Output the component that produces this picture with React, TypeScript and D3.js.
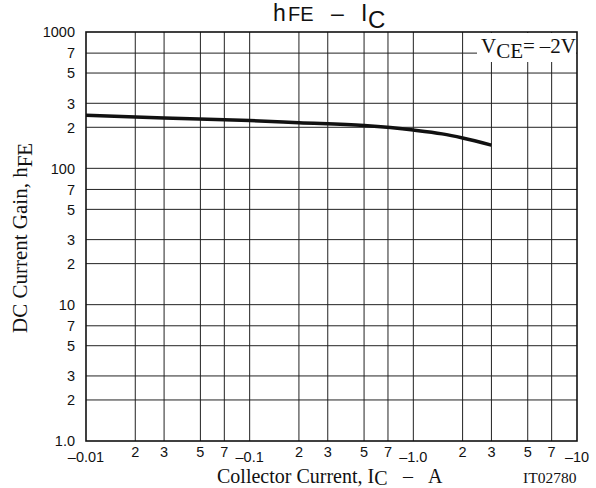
import React from "react";
import * as d3 from "d3";

const icValues = [0.01, 0.03, 0.1, 0.2, 0.5, 1, 1.5, 2, 3];
const hfeValues = [245, 234, 224, 216, 206, 191, 179, 167, 148];

const xTicks = [0.01, 0.02, 0.03, 0.05, 0.07, 0.1, 0.2, 0.3, 0.5, 0.7, 1, 2, 3, 5, 7, 10];
const xTickLabels = ["\u20130.01", "2", "3", "5", "7", "\u20130.1", "2", "3", "5", "7", "\u20131.0", "2", "3", "5", "7", "\u201310"];
const yTicks = [1, 2, 3, 5, 7, 10, 20, 30, 50, 70, 100, 200, 300, 500, 700, 1000];
const yTickLabels = ["1.0", "2", "3", "5", "7", "10", "2", "3", "5", "7", "100", "2", "3", "5", "7", "1000"];

const SANS = "'Liberation Sans', Arial, Helvetica, sans-serif";
const SERIF = "'Liberation Serif', 'Times New Roman', serif";

export default function App() {
  const W = 596, H = 488;
  const L = 86, R = 577, T = 32, B = 441;
  const x = d3.scaleLog().domain([0.01, 10]).range([L, R]);
  const y = d3.scaleLog().domain([1, 1000]).range([B, T]);
  const isDecade = (v: number) => Math.abs(Math.log10(v) - Math.round(Math.log10(v))) < 1e-9;

  const pts: [number, number][] = icValues.map((v, i) => [x(v), y(hfeValues[i])]);
  const line = d3.line().curve(d3.curveMonotoneX)(pts) || "";

  return (
    <svg width={W} height={H} style={{ position: "absolute", left: 0, top: 0, background: "#fff" }}>
      <rect x={0} y={0} width={W} height={H} fill="#fff" />
      {/* grid */}
      {xTicks.slice(1, -1).map((v, i) => (
        <line key={"gx" + i} x1={x(v)} x2={x(v)} y1={T} y2={B} stroke="#222" strokeWidth={1} />
      ))}
      {yTicks.slice(1, -1).map((v, i) => (
        <line key={"gy" + i} x1={L} x2={R} y1={y(v)} y2={y(v)} stroke="#222" strokeWidth={1} />
      ))}
      {/* curve */}
      <path d={line} fill="none" stroke="#111" strokeWidth={3.5} />
      {/* label box */}
      <rect x={477} y={T + 1} width={R - 477 - 1} height={29} fill="#fff" />
      <text x={481} y={53} fontFamily={SERIF} fontSize={21} fill="#111">
        V<tspan dy={5}>CE</tspan><tspan dy={-5}>=</tspan><tspan dx={5}>{"\u2013"}2V</tspan>
      </text>
      {/* frame */}
      <rect x={L} y={T} width={R - L} height={B - T} fill="none" stroke="#111" strokeWidth={1.6} />
      {/* y tick labels */}
      {yTicks.map((v, i) => (
        <text key={"yl" + i} x={75} y={y(v)} dy="0.36em" textAnchor="end" fontFamily={SANS} fontSize={14.5} fill="#111">
          {yTickLabels[i]}
        </text>
      ))}
      {/* x tick labels */}
      {xTicks.map((v, i) => (
        <text key={"xl" + i} x={x(v)} y={isDecade(v) ? 462 : 457} textAnchor="middle" fontFamily={SANS} fontSize={14.5} fill="#111">
          {xTickLabels[i]}
        </text>
      ))}
      {/* title */}
      <text y={21} fontFamily={SANS} fontSize={23} fill="#111">
        <tspan x={273}>h</tspan>
        <tspan x={288} fontSize={20}>FE</tspan>
        <tspan x={331}>{"\u2013"}</tspan>
        <tspan x={361}>I</tspan>
        <tspan x={368} dy={7} fontSize={24}>C</tspan>
      </text>
      {/* x axis title */}
      <text x={217} y={483} fontFamily={SERIF} fontSize={20} fill="#111">
        Collector Current, I<tspan dy={2}>C</tspan>
        <tspan x={403} dy={-2}>{"\u2013"}</tspan>
        <tspan x={428}>A</tspan>
      </text>
      <text x={523} y={483} fontFamily={SERIF} fontSize={15.5} fill="#111">IT02780</text>
      {/* y axis title */}
      <text transform="translate(27,333) rotate(-90)" fontFamily={SERIF} fontSize={21} fill="#111">
        DC Current Gain, h<tspan dy={5}>FE</tspan>
      </text>
    </svg>
  );
}
